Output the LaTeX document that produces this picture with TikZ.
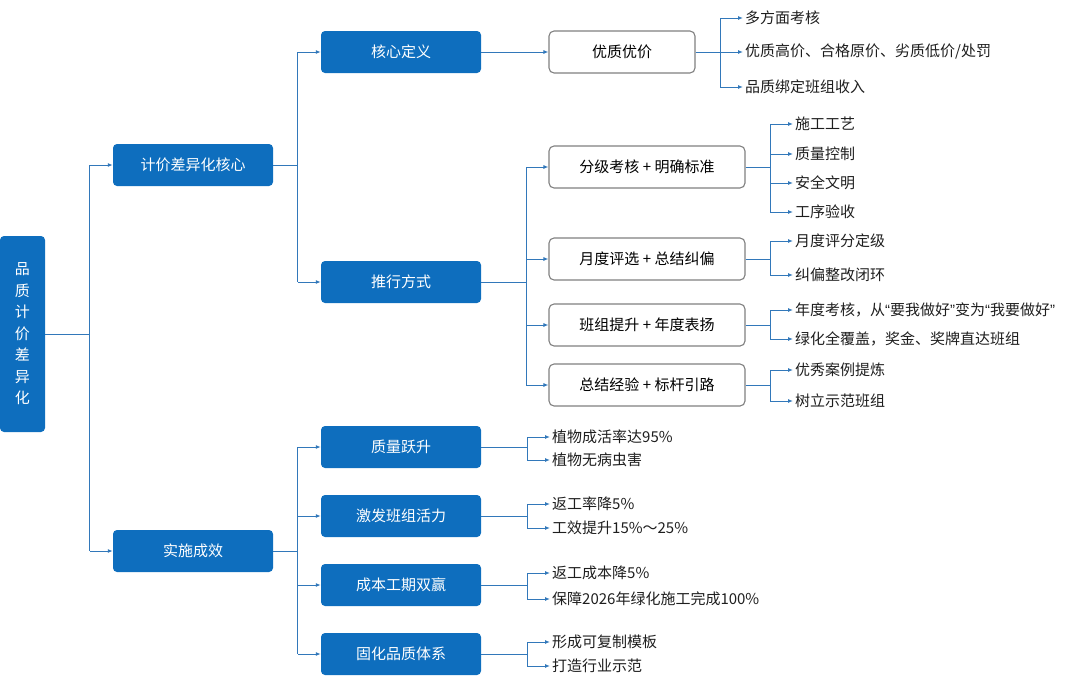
\documentclass[tikz,border=0pt]{standalone}
\usepackage{fontspec}
\setmainfont{Noto Sans CJK SC}
\newfontfamily\quotefont{Liberation Sans}
\usetikzlibrary{arrows.meta}
\definecolor{boxblue}{RGB}{14,110,190}
\definecolor{linkblue}{RGB}{50,120,186}
\definecolor{boxgray}{RGB}{128,128,128}
\definecolor{leafgray}{RGB}{30,30,30}
\newcommand{\openq}{{\quotefont “}}
\newcommand{\closeq}{{\quotefont ”}}
\begin{document}
\begin{tikzpicture}[x=1pt,y=-1pt,
	bluebox/.style={fill=boxblue,text=white,rounded corners=4pt,minimum width=160pt,minimum height=42pt,font=\fontsize{15}{17}\selectfont},
	whitebox/.style={draw=boxgray,line width=1.1pt,fill=white,rounded corners=5pt,minimum width=196pt,minimum height=42pt,font=\fontsize{15}{17}\selectfont},
	leaf/.style={anchor=west,inner sep=2pt,text=leafgray,font=\fontsize{15}{17}\selectfont},
	link/.style={draw=linkblue,line width=1pt},
	arr/.style={link,-{Latex[length=5pt,width=4pt]}}]
	
	\useasboundingbox (0,0) rectangle (1080,681);
	
	% root and first level
	\node[fill=boxblue,text=white,rounded corners=4pt,minimum width=45pt,minimum height=196pt,align=center,font=\fontsize{15}{21.5}\selectfont] (root) at (22.5,334){品\\质\\计\\价\\差\\异\\化};
	\node[bluebox] (core) at (193,165){计价差异化核心};
	\node[bluebox] (effect) at (193,551){实施成效};
	
	% second level
	\node[bluebox] (def) at (401,52){核心定义};
	\node[bluebox] (way) at (401,282){推行方式};
	\node[bluebox] (qual) at (401,447){质量跃升};
	\node[bluebox] (team) at (401,516){激发班组活力};
	\node[bluebox] (cost) at (401,585){成本工期双赢};
	\node[bluebox] (sys) at (401,654){固化品质体系};
	
	\node[whitebox,minimum width=146pt] (price) at (622,52){优质优价};
	\node[whitebox] (grade) at (647,167){分级考核 + 明确标准};
	\node[whitebox] (month) at (647,259){月度评选 + 总结纠偏};
	\node[whitebox] (year) at (647,325){班组提升 + 年度表扬};
	\node[whitebox] (sum) at (647,385){总结经验 + 标杆引路};
	
	% leaves
	\node[leaf] (p1) at (743,18){多方面考核};
	\node[leaf] (p2) at (743,52){优质高价、合格原价、劣质低价/处罚};
	\node[leaf] (p3) at (743,87){品质绑定班组收入};
	\node[leaf] (g1) at (793,124){施工工艺};
	\node[leaf] (g2) at (793,154){质量控制};
	\node[leaf] (g3) at (793,183){安全文明};
	\node[leaf] (g4) at (793,212){工序验收};
	\node[leaf] (m1) at (793,241){月度评分定级};
	\node[leaf] (m2) at (793,275){纠偏整改闭环};
	\node[leaf] (y1) at (793,310){年度考核，从\openq 要我做好\closeq 变为\openq 我要做好\closeq};
	\node[leaf] (y2) at (793,339){绿化全覆盖，奖金、奖牌直达班组};
	\node[leaf] (s1) at (793,370){优秀案例提炼};
	\node[leaf] (s2) at (793,401){树立示范班组};
	\node[leaf] (q1) at (550,437){植物成活率达95\%};
	\node[leaf] (q2) at (550,460){植物无病虫害};
	\node[leaf] (t1) at (550,504){返工率降5\%};
	\node[leaf] (t2) at (550,528){工效提升15\%～25\%};
	\node[leaf] (c1) at (550,573){返工成本降5\%};
	\node[leaf] (c2) at (550,599){保障2026年绿化施工完成100\%};
	\node[leaf] (f1) at (550,642){形成可复制模板};
	\node[leaf] (f2) at (550,666){打造行业示范};
	
	% connectors
	\draw[link] (root.east) -| ([xshift=-23pt]core.west);
	\draw[link] (root.east) -| ([xshift=-23pt]effect.west);
	\draw[arr] ([xshift=-23pt]core.west) -- (core.west);
	\draw[arr] ([xshift=-23pt]effect.west) -- (effect.west);
	
	\draw[link] (core.east) -| ([xshift=-23pt]def.west);
	\draw[link] (core.east) -| ([xshift=-23pt]way.west);
	\draw[arr] ([xshift=-23pt]def.west) -- (def.west);
	\draw[arr] ([xshift=-23pt]way.west) -- (way.west);
	
	\draw[link] (effect.east) -| ([xshift=-23pt]qual.west);
	\draw[link] (effect.east) -| ([xshift=-23pt]sys.west);
	\draw[arr] ([xshift=-23pt]qual.west) -- (qual.west);
	\draw[arr] ([xshift=-23pt]team.west) -- (team.west);
	\draw[arr] ([xshift=-23pt]cost.west) -- (cost.west);
	\draw[arr] ([xshift=-23pt]sys.west) -- (sys.west);
	
	\draw[arr] (def.east) -- (price.west);
	
	\draw[link] (way.east) -| ([xshift=-22pt]grade.west);
	\draw[link] (way.east) -| ([xshift=-22pt]sum.west);
	\draw[arr] ([xshift=-22pt]grade.west) -- (grade.west);
	\draw[arr] ([xshift=-22pt]month.west) -- (month.west);
	\draw[arr] ([xshift=-22pt]year.west) -- (year.west);
	\draw[arr] ([xshift=-22pt]sum.west) -- (sum.west);
	
	\draw[link] (price.east) -| ([xshift=-23pt]p1.west);
	\draw[link] (price.east) -| ([xshift=-23pt]p3.west);
	\draw[arr] ([xshift=-23pt]p1.west) -- (p1.west);
	\draw[arr] ([xshift=-23pt]p2.west) -- (p2.west);
	\draw[arr] ([xshift=-23pt]p3.west) -- (p3.west);
	
	\draw[link] (grade.east) -| ([xshift=-23pt]g1.west);
	\draw[link] (grade.east) -| ([xshift=-23pt]g4.west);
	\draw[arr] ([xshift=-23pt]g1.west) -- (g1.west);
	\draw[arr] ([xshift=-23pt]g2.west) -- (g2.west);
	\draw[arr] ([xshift=-23pt]g3.west) -- (g3.west);
	\draw[arr] ([xshift=-23pt]g4.west) -- (g4.west);
	
	\draw[link] (month.east) -| ([xshift=-23pt]m1.west);
	\draw[link] (month.east) -| ([xshift=-23pt]m2.west);
	\draw[arr] ([xshift=-23pt]m1.west) -- (m1.west);
	\draw[arr] ([xshift=-23pt]m2.west) -- (m2.west);
	
	\draw[link] (year.east) -| ([xshift=-23pt]y1.west);
	\draw[link] (year.east) -| ([xshift=-23pt]y2.west);
	\draw[arr] ([xshift=-23pt]y1.west) -- (y1.west);
	\draw[arr] ([xshift=-23pt]y2.west) -- (y2.west);
	
	\draw[link] (sum.east) -| ([xshift=-23pt]s1.west);
	\draw[link] (sum.east) -| ([xshift=-23pt]s2.west);
	\draw[arr] ([xshift=-23pt]s1.west) -- (s1.west);
	\draw[arr] ([xshift=-23pt]s2.west) -- (s2.west);
	
	\draw[link] (qual.east) -| ([xshift=-23pt]q1.west);
	\draw[link] (qual.east) -| ([xshift=-23pt]q2.west);
	\draw[arr] ([xshift=-23pt]q1.west) -- (q1.west);
	\draw[arr] ([xshift=-23pt]q2.west) -- (q2.west);
	
	\draw[link] (team.east) -| ([xshift=-23pt]t1.west);
	\draw[link] (team.east) -| ([xshift=-23pt]t2.west);
	\draw[arr] ([xshift=-23pt]t1.west) -- (t1.west);
	\draw[arr] ([xshift=-23pt]t2.west) -- (t2.west);
	
	\draw[link] (cost.east) -| ([xshift=-23pt]c1.west);
	\draw[link] (cost.east) -| ([xshift=-23pt]c2.west);
	\draw[arr] ([xshift=-23pt]c1.west) -- (c1.west);
	\draw[arr] ([xshift=-23pt]c2.west) -- (c2.west);
	
	\draw[link] (sys.east) -| ([xshift=-23pt]f1.west);
	\draw[link] (sys.east) -| ([xshift=-23pt]f2.west);
	\draw[arr] ([xshift=-23pt]f1.west) -- (f1.west);
	\draw[arr] ([xshift=-23pt]f2.west) -- (f2.west);
	
\end{tikzpicture}
\end{document}
